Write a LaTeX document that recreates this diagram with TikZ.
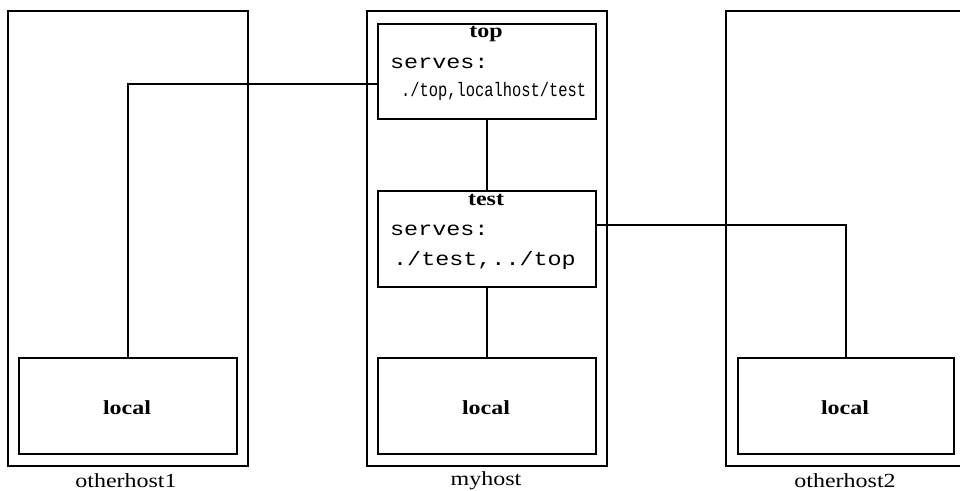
\documentclass[tikz,border=0pt]{standalone}
\usepackage{fontspec}
\setmainfont{Liberation Serif}
\setmonofont{Liberation Mono}
\newcommand{\wide}[1]{\scalebox{1.2}[1]{#1}}
\begin{document}
\begin{tikzpicture}[x=1pt,y=-1pt,
  hostbox/.style={draw,line width=2.2pt,rectangle,inner sep=0pt,anchor=north west},
  procbox/.style={draw,line width=2.2pt,rectangle,inner sep=0pt,anchor=north west},
  conn/.style={line width=1.5pt},
  bold/.style={font=\fontsize{20}{22}\selectfont\bfseries,inner sep=0pt,anchor=base},
  mono/.style={font=\fontsize{19.5}{22}\selectfont\ttfamily,inner sep=0pt,anchor=base west},
  hostlabel/.style={font=\fontsize{20}{22}\selectfont,inner sep=0pt,anchor=base}]
\useasboundingbox (0,0) rectangle (960,490);
% hosts
\node[hostbox,minimum width=240pt,minimum height=455pt] (h1) at (7,10) {};
\node[hostbox,minimum width=240pt,minimum height=455pt] (h0) at (366,10) {};
\node[hostbox,minimum width=240pt,minimum height=455pt] (h2) at (725,10) {};
% local boxes
\node[procbox,minimum width=218pt,minimum height=96pt] (local1) at (18,357) {};
\node[procbox,minimum width=218pt,minimum height=96pt] (local0) at (377,357) {};
\node[procbox,minimum width=216pt,minimum height=96pt] (local2) at (737,357) {};
\node[bold] (l1t) at (127,414) {\wide{local}};
\node[bold] (l0t) at (486,414) {\wide{local}};
\node[bold] (l2t) at (845,414) {\wide{local}};
% top and test
\node[procbox,minimum width=218pt,minimum height=95pt] (top) at (377,23) {};
\node[procbox,minimum width=218pt,minimum height=96pt] (test) at (377,190) {};
\node[bold] (toptitle) at (486,37) {\wide{top}};
\node[mono] (topserves) at (390,68) {\wide{serves:}};
\node[mono] (toplist) at (401,96) {\scalebox{0.79}[1]{./top,localhost/test}};
\node[bold] (testtitle) at (486,205) {\wide{test}};
\node[mono] (testserves) at (390,235) {\wide{serves:}};
\node[mono] (testlist) at (393,265) {\wide{./test,../top}};
% host labels
\node[hostlabel] (lab1) at (126,487) {\wide{otherhost1}};
\node[hostlabel] (lab0) at (486,485) {\wide{myhost}};
\node[hostlabel] (lab2) at (845,487) {\wide{otherhost2}};
% connectors
\draw[conn] (top.west |- 0,84) -| (local1.north);
\draw[conn] (top.south) -- (test.north);
\draw[conn] (test.south) -- (local0.north);
\draw[conn] (test.east |- 0,225) -| (local2.north);
\end{tikzpicture}
\end{document}
